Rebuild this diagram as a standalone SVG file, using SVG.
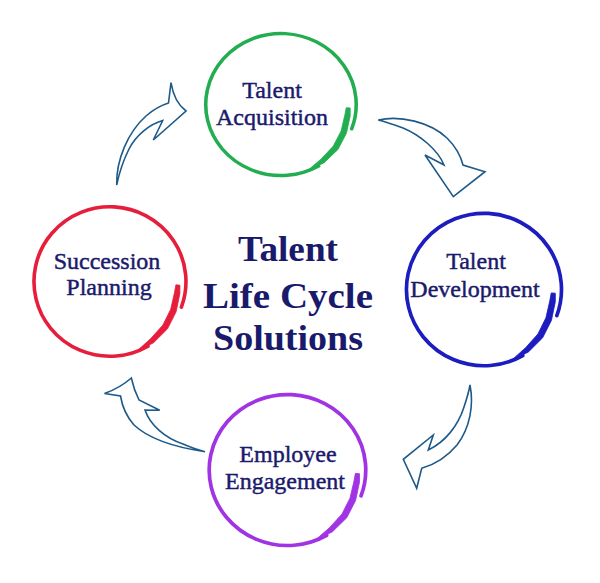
<svg xmlns="http://www.w3.org/2000/svg" xmlns:xlink="http://www.w3.org/1999/xlink" width="600" height="583" viewBox="0 0 600 583">
  <style>
    .thin { fill: none; stroke: currentColor; stroke-width: 3.6; stroke-linecap: round; }
    .thick { fill: currentColor; stroke: currentColor; stroke-width: 0.8; stroke-linejoin: round; }
    .lbl { font-family: "Liberation Serif", "Times New Roman", serif; font-size: 24px; fill: #1a1a6c; stroke: #1a1a6c; stroke-width: 0.45; text-anchor: middle; }
    .title { font-family: "Liberation Serif", "Times New Roman", serif; font-size: 36px; font-weight: bold; fill: #1a1a6c; text-anchor: middle; }
    .arrow { fill: #ffffff; stroke: #1d5a8a; stroke-width: 1.6; stroke-linejoin: miter; }
  </style>
  <defs>
    <g id="brush">
      <path class="thin" d="M71.4,25.3 A76,74 0 1 0 38,64.1"/>
      <path class="thick" d="M26,69.6 L43.6,60.6 L57.5,46.9 L66.1,30 L69.9,12 L69.9,3.6 L65.9,3.3 L64.5,11 L60.7,27.5 L52.9,43.1 L40.8,56.5 Z"/>
    </g>
  </defs>
  <rect width="600" height="583" fill="#ffffff"/>

  <g id="connectors">
    <path class="arrow" d="M116.7,185 C116,160 128,132 146,116 C154,109 162,105 168.5,103 L171,82.5 Q174,102 186,111 L153.3,140 L162.7,120.5 C150,124 136,135 129,149 C123,161 119,174 116.7,185 Z"/>
    <path class="arrow" d="M378.3,120 C400,115 430,122 447,138 C456,147 461,157 463,165 L485,171.7 L453.3,196.7 L425,155 L444,165 C438,150 420,135 403,128 C395,125 386,122 378.3,120 Z"/>
    <path class="arrow" d="M470,385 C474,405 470,428 457,445 C447,457 433,465 421.7,468.3 L416.7,488.3 L403.3,459.3 L433.3,435 L428.3,450 C445,442 458,426 464,407 C467,398 469,391 470,385 Z"/>
    <path class="arrow" d="M205,451.7 C180,448 150,440 134,425 C126,416 122,405 120.5,396 L104.5,393.5 Q120,388 131.3,378 Q134,390 139,400 L159.7,410.3 L145,410 C150,425 165,438 183,444 C190,447 198,450 205,451.7 Z"/>
  </g>

  <g id="talent-acquisition">
    <use xlink:href="#brush" href="#brush" transform="translate(281,104.5) scale(0.99,0.96)" style="color:#22ad50"/>
    <text class="lbl" x="272" y="98">Talent</text>
    <text class="lbl" x="272" y="125">Acquisition</text>
  </g>

  <g id="talent-development">
    <use xlink:href="#brush" href="#brush" transform="translate(484,289.5) scale(1.02,1.03)" style="color:#1c1cbf"/>
    <text class="lbl" x="476" y="269">Talent</text>
    <text class="lbl" x="475" y="297">Development</text>
  </g>

  <g id="employee-engagement">
    <use xlink:href="#brush" href="#brush" transform="translate(287.5,470) scale(1.03,1.02)" style="color:#a033e3"/>
    <text class="lbl" x="288" y="462">Employee</text>
    <text class="lbl" x="285" y="489">Engagement</text>
  </g>

  <g id="succession-planning">
    <use xlink:href="#brush" href="#brush" transform="translate(110,281.5) scale(1.0,1.01)" style="color:#e61e3c"/>
    <text class="lbl" x="107" y="269">Succession</text>
    <text class="lbl" x="109" y="295">Planning</text>
  </g>

  <g id="title">
    <text class="title" x="288" y="261" textLength="100" lengthAdjust="spacingAndGlyphs">Talent</text>
    <text class="title" x="288" y="308" textLength="170" lengthAdjust="spacingAndGlyphs">Life Cycle</text>
    <text class="title" x="288" y="350" textLength="150" lengthAdjust="spacingAndGlyphs">Solutions</text>
  </g>
</svg>
